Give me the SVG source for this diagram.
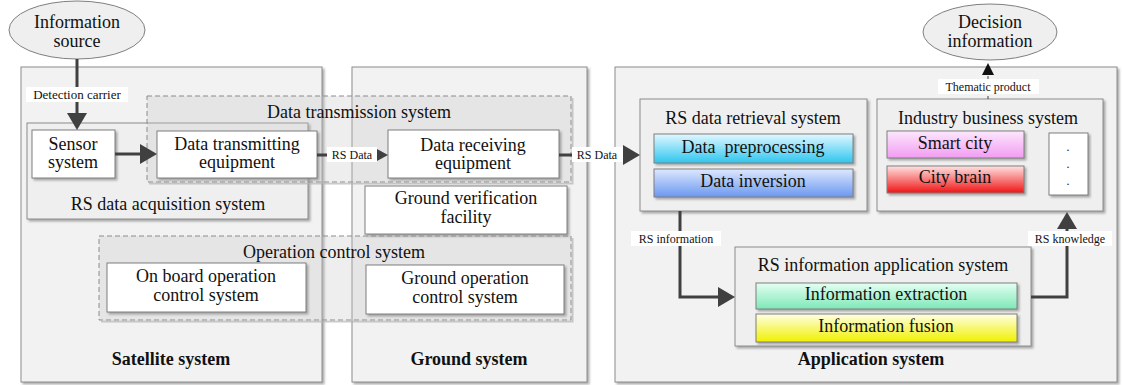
<svg xmlns="http://www.w3.org/2000/svg" width="1122" height="385" viewBox="0 0 1122 385" font-family="'Liberation Serif', 'DejaVu Serif', serif">
  <style>
    text { font-family: "Liberation Serif", "Times New Roman", "DejaVu Serif", serif; fill: #111; text-anchor: middle; }
    .t18 { font-size: 18px; }
    .t13 { font-size: 13px; }
    .t12 { font-size: 12px; }
    .bold { font-size: 18px; font-weight: bold; }
    .outer { fill: #f2f2f2; stroke: #8c8c8c; stroke-width: 1; filter: url(#sh); }
    .group { fill: #efefef; stroke: #8c8c8c; stroke-width: 1; filter: url(#sh); }
    .dash { fill: #c8c8c8; fill-opacity: 0.3; stroke: #8c8c8c; stroke-width: 1; stroke-dasharray: 5 3; }
    .dshade { fill: #b4b4b4; fill-opacity: 0.7; }
    .box { fill: #ffffff; stroke: #7f7f7f; stroke-width: 1; filter: url(#sh); }
    .ell { fill: #efefef; stroke: #7f7f7f; stroke-width: 1; }
    .conn { fill: none; stroke: #404040; stroke-width: 3; }
    .thin { fill: none; stroke: #404040; stroke-width: 1; stroke-dasharray: 3 2; }
    .lbl { fill: #ffffff; }
  </style>
  <defs>
    <filter id="sh" x="-5%" y="-5%" width="115%" height="120%">
      <feDropShadow dx="2" dy="2" stdDeviation="0.8" flood-color="#8a8a8a" flood-opacity="0.7"/>
    </filter>
    <marker id="ah" markerUnits="userSpaceOnUse" markerWidth="17" markerHeight="20" refX="0" refY="10" orient="auto">
      <path d="M0,0 L17,10 L0,20 z" fill="#404040"/>
    </marker>
    <marker id="ahs" markerUnits="userSpaceOnUse" markerWidth="11" markerHeight="12" refX="0" refY="6" orient="auto">
      <path d="M0,0 L11,6 L0,12 z" fill="#404040"/>
    </marker>
    <marker id="aht" markerUnits="userSpaceOnUse" markerWidth="12" markerHeight="12" refX="0" refY="6" orient="auto">
      <path d="M0,0 L12,6 L0,12 z" fill="#111"/>
    </marker>
    <linearGradient id="gPre" x1="0" y1="0" x2="0" y2="1">
      <stop offset="0" stop-color="#e2f8ff"/><stop offset="1" stop-color="#2ec6f0"/>
    </linearGradient>
    <linearGradient id="gInv" x1="0" y1="0" x2="0" y2="1">
      <stop offset="0" stop-color="#dde8ff"/><stop offset="1" stop-color="#6a98f0"/>
    </linearGradient>
    <linearGradient id="gSmart" x1="0" y1="0" x2="0" y2="1">
      <stop offset="0" stop-color="#fde8fd"/><stop offset="1" stop-color="#f29cf2"/>
    </linearGradient>
    <linearGradient id="gBrain" x1="0" y1="0" x2="0" y2="1">
      <stop offset="0" stop-color="#ffe2e2"/><stop offset="1" stop-color="#f01414"/>
    </linearGradient>
    <linearGradient id="gExt" x1="0" y1="0" x2="0" y2="1">
      <stop offset="0" stop-color="#e4fff2"/><stop offset="1" stop-color="#7ee8b8"/>
    </linearGradient>
    <linearGradient id="gFus" x1="0" y1="0" x2="0" y2="1">
      <stop offset="0" stop-color="#ffffe4"/><stop offset="1" stop-color="#f0f000"/>
    </linearGradient>
  </defs>

  <!-- top-level systems -->
  <g id="satellite-system">
    <rect class="outer" x="21" y="67" width="301" height="315"/>
    <text class="bold" x="171" y="365">Satellite system</text>
  </g>
  <g id="ground-system">
    <rect class="outer" x="352" y="67" width="235" height="315"/>
    <text class="bold" x="469" y="365">Ground system</text>
  </g>
  <g id="application-system">
    <rect class="outer" x="615" y="67" width="502" height="315"/>
    <text class="bold" x="871" y="365">Application system</text>
  </g>

  <!-- satellite side -->
  <g id="rs-data-acquisition-system">
    <rect class="group" x="27" y="123" width="281" height="96"/>
    <text class="t18" x="168" y="210">RS data acquisition system</text>
  </g>
  <g id="data-transmission-system">
    <rect class="dash" x="147" y="96" width="424" height="86"/>
    <path class="dshade" d="M571.5,98 h2 v86.5 h-424.5 v-2 h422.5 z"/>
    <text class="t18" x="359" y="118">Data transmission system</text>
  </g>
  <g id="operation-control-system">
    <rect class="dash" x="99" y="236" width="472" height="84"/>
    <path class="dshade" d="M571.5,238 h2 v84.5 h-472.5 v-2 h470.5 z"/>
    <text class="t18" x="334" y="258">Operation control system</text>
  </g>
  <g id="sensor-system">
    <rect class="box" x="32" y="130" width="83" height="48"/>
    <text class="t18" x="73" y="150">Sensor</text>
    <text class="t18" x="73" y="168">system</text>
  </g>
  <g id="data-transmitting-equipment">
    <rect class="box" x="157" y="131" width="160" height="47"/>
    <text class="t18" x="237" y="150">Data transmitting</text>
    <text class="t18" x="237" y="168">equipment</text>
  </g>
  <g id="onboard-operation-control">
    <rect class="box" x="107" y="263" width="199" height="49"/>
    <text class="t18" x="206" y="282">On board operation</text>
    <text class="t18" x="206" y="301">control system</text>
  </g>

  <!-- ground side -->
  <g id="data-receiving-equipment">
    <rect class="box" x="388" y="130" width="171" height="48"/>
    <text class="t18" x="473" y="151">Data receiving</text>
    <text class="t18" x="473" y="169">equipment</text>
  </g>
  <g id="ground-verification-facility">
    <rect class="box" x="365" y="186" width="202" height="48"/>
    <text class="t18" x="466" y="204">Ground verification</text>
    <text class="t18" x="466" y="223">facility</text>
  </g>
  <g id="ground-operation-control">
    <rect class="box" x="366" y="265" width="198" height="49"/>
    <text class="t18" x="465" y="284">Ground operation</text>
    <text class="t18" x="465" y="303">control system</text>
  </g>

  <!-- application side -->
  <g id="rs-data-retrieval-system">
    <rect class="group" x="640" y="99" width="227" height="112"/>
    <text class="t18" x="753" y="124">RS data retrieval system</text>
    <rect class="box" x="654" y="134" width="199" height="29" style="fill:url(#gPre)"/>
    <text class="t18" x="753" y="153" xml:space="preserve">Data  preprocessing</text>
    <rect class="box" x="654" y="169" width="199" height="28" style="fill:url(#gInv)"/>
    <text class="t18" x="753" y="187">Data inversion</text>
  </g>
  <g id="industry-business-system">
    <rect class="group" x="877" y="99" width="226" height="112"/>
    <text class="t18" x="988" y="124">Industry business system</text>
    <rect class="box" x="887" y="131" width="137" height="27" style="fill:url(#gSmart)"/>
    <text class="t18" x="955" y="149">Smart city</text>
    <rect class="box" x="887" y="166" width="137" height="27" style="fill:url(#gBrain)"/>
    <text class="t18" x="955" y="183">City brain</text>
    <rect class="box" x="1049" y="133" width="39" height="62"/>
    <text class="t12" x="1068" y="151">.</text>
    <text class="t12" x="1068" y="168">.</text>
    <text class="t12" x="1068" y="185">.</text>
  </g>
  <g id="rs-information-application-system">
    <rect class="group" x="735" y="247" width="296" height="99"/>
    <text class="t18" x="883" y="271">RS information application system</text>
    <rect class="box" x="756" y="283" width="261" height="26" style="fill:url(#gExt)"/>
    <text class="t18" x="886" y="300">Information extraction</text>
    <rect class="box" x="756" y="314" width="261" height="28" style="fill:url(#gFus)"/>
    <text class="t18" x="886" y="332">Information fusion</text>
  </g>

  <!-- terminals -->
  <g id="information-source">
    <ellipse class="ell" cx="77" cy="30" rx="68" ry="29"/>
    <text class="t18" x="77" y="28">Information</text>
    <text class="t18" x="77" y="47">source</text>
  </g>
  <g id="decision-information">
    <ellipse class="ell" cx="990" cy="32" rx="67" ry="28"/>
    <text class="t18" x="990" y="28">Decision</text>
    <text class="t18" x="990" y="47">information</text>
  </g>

  <!-- connectors -->
  <g id="connectors">
    <path class="conn" d="M77,59 V113" marker-end="url(#ah)"/>
    <rect class="lbl" x="26" y="87" width="102" height="15"/>
    <text class="t13" x="77" y="99">Detection carrier</text>

    <path class="conn" d="M115,154 H140" marker-end="url(#ah)"/>

    <path class="conn" d="M317,155 H377" stroke-width="2" marker-end="url(#ahs)"/>
    <rect class="lbl" x="327" y="147" width="50" height="15"/>
    <text class="t12" x="352" y="159">RS Data</text>

    <path class="conn" d="M559,155 H623" stroke-width="2" marker-end="url(#ah)"/>
    <rect class="lbl" x="572" y="147" width="51" height="15"/>
    <text class="t12" x="597" y="159">RS Data</text>

    <path class="thin" d="M988,99 V75" marker-end="url(#aht)"/>
    <rect class="lbl" x="938" y="79" width="101" height="15"/>
    <text class="t12" x="988" y="91">Thematic product</text>

    <path class="conn" d="M680,211 V297 H718" marker-end="url(#ah)"/>
    <rect class="lbl" x="631" y="231" width="90" height="15"/>
    <text class="t12" x="676" y="243">RS information</text>

    <path class="conn" d="M1031,297 H1067 V229" marker-end="url(#ah)"/>
    <rect class="lbl" x="1028" y="231" width="84" height="15"/>
    <text class="t12" x="1070" y="243">RS knowledge</text>
  </g>
</svg>
